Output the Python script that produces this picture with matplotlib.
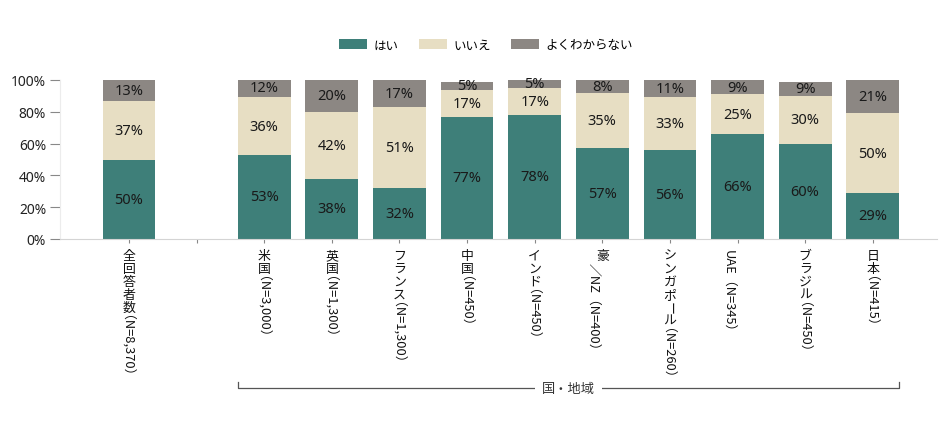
import matplotlib
matplotlib.use("Agg")
import matplotlib.pyplot as plt

plt.rcParams["font.family"] = ["Noto Sans", "Noto Sans CJK JP", "DejaVu Sans"]

# data
categories = ["全回答者数（N=8,370）", "米国（N=3,000）", "英国（N=1,300）",
              "フランス（N=1,300）", "中国（N=450）", "インド（N=450）",
              "豪／NZ（N=400）", "シンガポール（N=260）", "UAE（N=345）",
              "ブラジル（N=450）", "日本（N=415）"]
yes = [50, 53, 38, 32, 77, 78, 57, 56, 66, 60, 29]
no = [37, 36, 42, 51, 17, 17, 35, 33, 25, 30, 50]
unsure = [13, 12, 20, 17, 5, 5, 8, 11, 9, 9, 21]
series_names = ["はい", "いいえ", "よくわからない"]
colors = ["#3e7f79", "#e7dec3", "#8c8783"]
group_label = "国・地域"

# first bar stands alone, an empty slot follows it
x = [0] + list(range(2, len(categories) + 1))
bar_w = 0.78

fig = plt.figure(figsize=(9.43, 4.39), dpi=100)
ax = fig.add_axes([60 / 943, 1 - 240 / 439, 877 / 943, 159 / 439])

bottom = [0] * len(yes)
for vals, name, col in zip([yes, no, unsure], series_names, colors):
    ax.bar(x, vals, bar_w, bottom=bottom, color=col, label=name)
    for xi, b, v in zip(x, bottom, vals):
        ax.text(xi, b + v / 2, f"{v}%", ha="center", va="center",
                fontsize=10.5, color="#1a1a1a")
    bottom = [b + v for b, v in zip(bottom, vals)]

ax.set_xlim(-1.02, 11.95)
ax.set_ylim(0, 100)
ax.set_yticks([0, 20, 40, 60, 80, 100])
ax.set_yticklabels([f"{t}%" for t in [0, 20, 40, 60, 80, 100]], fontsize=10,
                   color="#222222")
ax.tick_params(axis="y", length=7, width=0.8, color="#888888", pad=3)
ax.set_xticks(list(range(0, 12)))
ax.set_xticklabels([])
ax.tick_params(axis="x", length=3, width=0.8, color="#888888")
for s in ["top", "right"]:
    ax.spines[s].set_visible(False)
ax.spines["bottom"].set_color("#d4d4d4")
ax.spines["left"].set_color("#ececec")


# vertical (tategaki) tick labels: kana / kanji upright, the rest turned
def is_upright(ch):
    code = ord(ch)
    return (0x3040 <= code <= 0x30FF or 0x4E00 <= code <= 0x9FFF) and ch != "ー"


fs = 9.3
step = fs
start = 7.2
xt = ax.get_xaxis_transform()
cjk = ["Noto Sans CJK JP", "DejaVu Sans"]
for xi, label in zip(x, categories):
    for i, ch in enumerate(label):
        if is_upright(ch):
            ax.annotate(ch, (xi, 0), xycoords=xt,
                        xytext=(0, -(start + (i + 0.5) * step)),
                        textcoords="offset points", ha="center", va="center",
                        fontsize=fs, color="#111111", family=cjk)
        elif ch == "ー":
            ax.annotate(ch, (xi, 0), xycoords=xt,
                        xytext=(0, -(start + (i + 0.5) * step)),
                        textcoords="offset points", ha="center", va="center",
                        fontsize=fs, color="#111111", rotation=270,
                        family=cjk)
        else:
            ax.annotate(label[i:], (xi, 0), xycoords=xt,
                        xytext=(-0.36 * fs - 5.5, -(start + i * step)),
                        textcoords="offset points", ha="left", va="baseline",
                        rotation_mode="anchor",
                        fontsize=fs, color="#111111", rotation=270,
                        family=cjk)
            break

# bracket under the country group
left = x[1] - bar_w / 2
right = x[-1] + bar_w / 2
y_line = -149 / 159
y_tick = -143 / 159
ax.plot([left, left, right, right], [y_tick, y_line, y_line, y_tick],
        transform=xt, clip_on=False, color="#555555", lw=0.9)
ax.text((left + right) / 2, y_line, group_label, transform=xt, ha="center",
        va="center", fontsize=9.5, color="#333333", family=cjk,
        bbox=dict(facecolor="white", edgecolor="none", pad=5))

fig.legend(loc="center", bbox_to_anchor=(486 / 943, 1 - 46 / 439), ncol=3,
           frameon=False, prop={"family": cjk, "size": 9},
           handlelength=2.24, handleheight=0.88,
           columnspacing=1.6, handletextpad=0.55)

fig.savefig("out.png", dpi=100)
